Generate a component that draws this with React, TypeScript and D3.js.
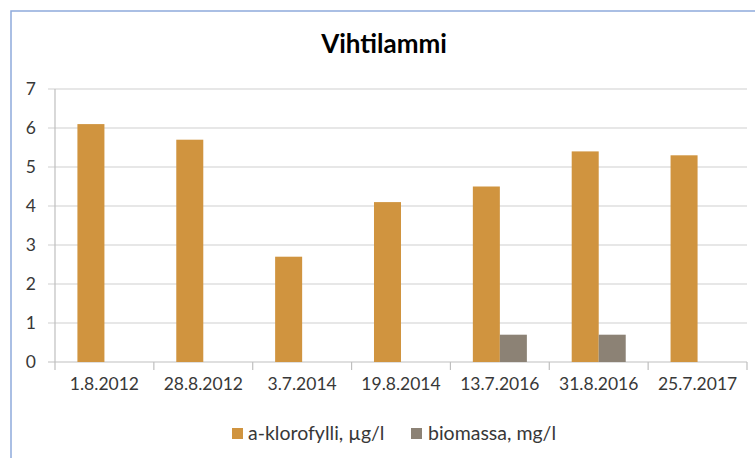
import React from "react";
import * as d3 from "d3";

const categories = ["1.8.2012", "28.8.2012", "3.7.2014", "19.8.2014", "13.7.2016", "31.8.2016", "25.7.2017"];
const seriesNames = ["a-klorofylli, µg/l", "biomassa, mg/l"];
const klorofylli = [6.1, 5.7, 2.7, 4.1, 4.5, 5.4, 5.3];
const biomassa = [null, null, null, null, 0.7, 0.7, null];
const yTicks = [0, 1, 2, 3, 4, 5, 6, 7];
const colors = ["#D0943F", "#8C8275"];
const title = "Vihtilammi";

const W = 755;
const H = 458;
const FONT = "Lato, 'Open Sans', sans-serif";

export default function App() {
  const left = 55, right = 747, top = 89, bottom = 362;
  const x0 = d3.scaleBand<string>().domain(categories).range([left, right]).paddingInner(0).paddingOuter(0);
  const x1 = d3.scaleBand<string>().domain(seriesNames).range([0, x0.bandwidth()]).paddingInner(0).paddingOuter(0.83);
  const y = d3.scaleLinear().domain([0, 7]).range([bottom, top]);
  const data = [klorofylli, biomassa];

  return (
    <svg width={W} height={H} style={{ position: "absolute", left: 0, top: 0, display: "block" }}>
      <rect x={0} y={0} width={W} height={H} fill="#ffffff" />
      <rect x={11} y={11} width={W + 50} height={H + 50} fill="#ffffff" stroke="#8FAADC" strokeWidth={1.5} />
      <text x={384} y={53} textAnchor="middle" fontFamily={FONT} fontWeight={700} fontSize={26} fill="#000">{title}</text>
      {yTicks.map((t) => (
        <g key={t}>
          <line x1={left - 7} x2={right} y1={y(t)} y2={y(t)} stroke={t === 0 ? "#BFBFBF" : "#CFCFCF"} strokeWidth={1.2} />
          <text x={36} y={y(t)} dy="0.35em" textAnchor="end" fontFamily={FONT} fontSize={17.5} fill="#383838">{t}</text>
        </g>
      ))}
      {categories.map((c, i) => (
        <line key={"tk" + i} x1={x0(c)!} x2={x0(c)!} y1={i === 0 ? top : bottom} y2={bottom + 8} stroke="#BFBFBF" strokeWidth={1.2} />
      ))}
      <line x1={right} x2={right} y1={bottom} y2={bottom + 8} stroke="#BFBFBF" strokeWidth={1.2} />
      {data.map((vals, si) =>
        vals.map((v, i) =>
          v == null ? null : (
            <rect
              key={si + "-" + i}
              x={x0(categories[i])! + x1(seriesNames[si])!}
              y={y(v)}
              width={x1.bandwidth()}
              height={y(0) - y(v)}
              fill={colors[si]}
            />
          )
        )
      )}
      {categories.map((c) => (
        <text key={"lb" + c} x={x0(c)! + x0.bandwidth() / 2} y={390} textAnchor="middle" fontFamily={FONT} fontSize={17.5} fill="#383838">{c}</text>
      ))}
      <g>
        <rect x={232} y={428} width={11} height={11} fill={colors[0]} />
        <text x={248} y={440} fontFamily={FONT} fontSize={19.5} fill="#383838">{seriesNames[0]}</text>
        <rect x={411} y={428} width={11} height={11} fill={colors[1]} />
        <text x={428} y={440} fontFamily={FONT} fontSize={19.5} fill="#383838">{seriesNames[1]}</text>
      </g>
    </svg>
  );
}
